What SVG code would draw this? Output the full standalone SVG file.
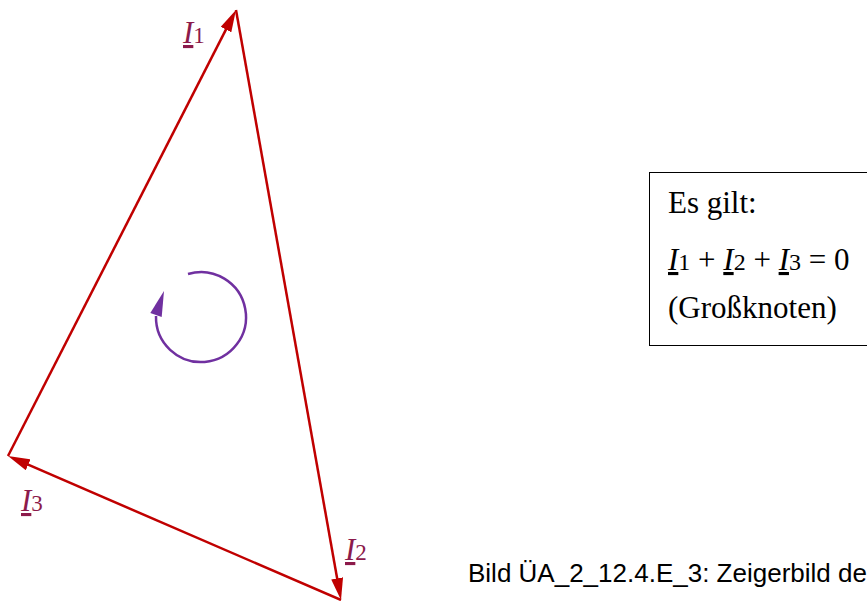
<svg xmlns="http://www.w3.org/2000/svg" width="867" height="601" viewBox="0 0 867 601">
<defs>
<style>
.vec{stroke:#C00000;stroke-width:2.5;fill:none}
.lbl{font-family:"Liberation Serif","Times New Roman",serif;fill:#8C1A4B;font-size:31px}
.box{font-family:"Liberation Serif","Times New Roman",serif;fill:#000;font-size:31px}
.it{font-style:italic;text-decoration:underline}
.cap{font-family:"Liberation Sans",Arial,sans-serif;font-size:26px;fill:#000}
</style>
<marker id="ah" markerUnits="userSpaceOnUse" viewBox="0 0 22 12" markerWidth="22" markerHeight="12" refX="12" refY="6" orient="auto">
<path d="M0,0 L22,6 L0,12 z" fill="#C00000"/>
</marker>
</defs>
<rect width="867" height="601" fill="#fff"/>
<g id="connectors">
<line id="I1" class="vec" x1="8" y1="456" x2="231.4" y2="18.9" marker-end="url(#ah)"/>
<line id="I2" class="vec" x1="236" y1="10" x2="339.25" y2="590.16" marker-end="url(#ah)"/>
<line id="I3" class="vec" x1="341" y1="600" x2="17.18" y2="459.97" marker-end="url(#ah)"/>
</g>
<g id="loop">
<path d="M188,274 A45,45 0 1,1 156,316" fill="none" stroke="#7030A0" stroke-width="2.5"/>
<polygon points="164,291 150.3,313.1 161.7,316.9" fill="#7030A0"/>
</g>
<g id="label-I1"><text class="lbl" x="183" y="43"><tspan class="it">I</tspan><tspan font-size="23">1</tspan></text></g>
<g id="label-I2"><text class="lbl" x="345" y="560"><tspan class="it">I</tspan><tspan font-size="23">2</tspan></text></g>
<g id="label-I3"><text class="lbl" x="21" y="511"><tspan class="it">I</tspan><tspan font-size="23">3</tspan></text></g>
<g id="infobox">
<rect x="649.5" y="172.5" width="230" height="173" fill="none" stroke="#000" stroke-width="1"/>
<text class="box" x="668" y="213">Es gilt:</text>
<text class="box" x="668" y="270" font-size="32"><tspan class="it">I</tspan><tspan font-size="24">1</tspan> + <tspan class="it">I</tspan><tspan font-size="24">2</tspan> + <tspan class="it">I</tspan><tspan font-size="24">3</tspan> = 0</text>
<text class="box" x="668" y="318" font-size="25">(Großknoten)</text>
</g>
<g id="caption"><text class="cap" x="468" y="582">Bild ÜA_2_12.4.E_3: Zeigerbild de</text></g>
</svg>
